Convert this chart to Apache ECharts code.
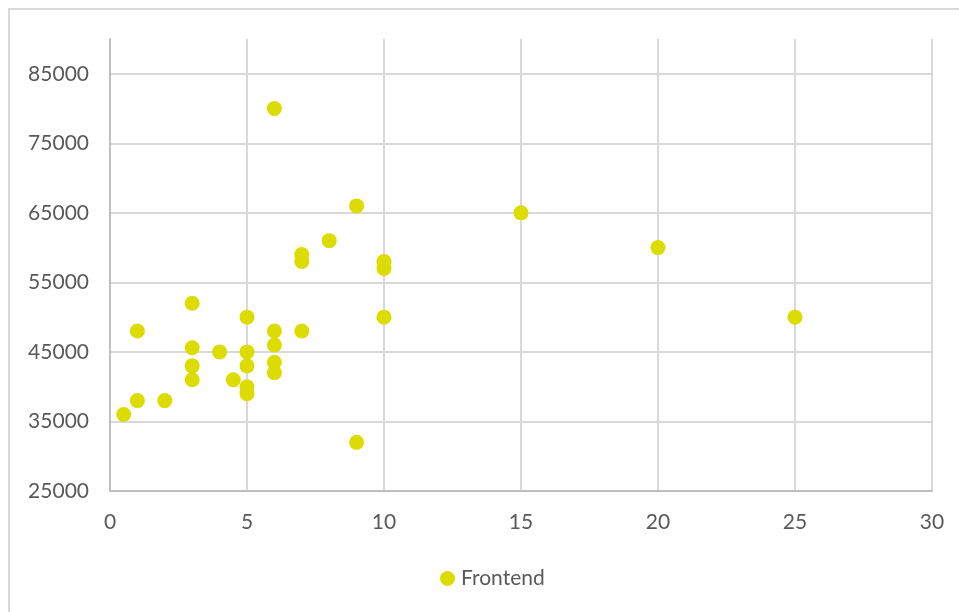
<!DOCTYPE html>
<html>
<head>
<meta charset="utf-8">
<script src="https://cdn.jsdelivr.net/npm/echarts@6/dist/echarts.min.js"></script>
<style>
  html, body { margin: 0; padding: 0; background: #ffffff; }
  #chart { width: 959px; height: 612px; }
</style>
</head>
<body>
<div id="chart"></div>
<script>
// Data
const seriesName = 'Frontend';
const xValues = [0.5, 1, 1, 2, 3, 3, 3, 3, 4, 4.5, 5, 5, 5, 5, 5, 6, 6, 6, 6, 6, 7, 7, 7, 8, 9, 9, 10, 10, 10, 15, 20, 25];
const yValues = [36000, 38000, 48000, 38000, 52000, 45600, 43000, 41000, 45000, 41000, 50000, 45000, 43000, 40000, 39000, 80000, 48000, 46000, 43500, 42000, 59000, 58000, 48000, 61000, 66000, 32000, 58000, 57000, 50000, 65000, 60000, 50000];
const xTicks = [0, 5, 10, 15, 20, 25, 30];
const yTicks = [25000, 35000, 45000, 55000, 65000, 75000, 85000];

const points = xValues.map((x, i) => [x, yValues[i]]);

const textColor = '#595959';
const fontFamily = 'Lato, "Open Sans", sans-serif';

const chart = echarts.init(document.getElementById('chart'), null, { renderer: 'canvas' });
chart.setOption({
  animation: false,
  backgroundColor: '#ffffff',
  graphic: [{
    type: 'rect',
    shape: { x: 9, y: 9, width: 1000, height: 1000 },
    style: { fill: 'none', stroke: '#d9d9d9', lineWidth: 2 },
    silent: true,
    z: -1
  }],
  grid: { left: 110, top: 39, width: 822, height: 452, containLabel: false },
  xAxis: {
    type: 'value',
    min: xTicks[0],
    max: xTicks[xTicks.length - 1],
    interval: 5,
    axisLine: { show: true, lineStyle: { color: '#bfbfbf', width: 2 } },
    axisTick: { show: false },
    axisLabel: { color: textColor, fontSize: 21, fontFamily: fontFamily, margin: 21 },
    splitLine: { show: true, lineStyle: { color: '#d9d9d9', width: 2 } }
  },
  yAxis: {
    type: 'value',
    min: 25000,
    max: 90000,
    interval: 5000,
    axisLine: { show: true, lineStyle: { color: '#bfbfbf', width: 2 } },
    axisTick: { show: false },
    axisLabel: {
      color: textColor, fontSize: 21, fontFamily: fontFamily, margin: 21,
      formatter: function (v) { return yTicks.indexOf(v) >= 0 ? String(v) : ''; }
    },
    splitLine: { show: true, lineStyle: { color: ['#d9d9d9', 'rgba(0,0,0,0)'], width: 2 } }
  },
  legend: {
    left: 435,
    top: 563,
    icon: 'circle',
    itemWidth: 15,
    itemHeight: 15,
    itemGap: 20,
    textStyle: { color: textColor, fontSize: 21, fontFamily: fontFamily, padding: [0, 0, 0, 1] },
    data: [seriesName]
  },
  series: [{
    name: seriesName,
    type: 'scatter',
    symbol: 'circle',
    symbolSize: 15,
    itemStyle: { color: '#dcdc00', opacity: 1 },
    data: points
  }]
});
</script>
</body>
</html>
